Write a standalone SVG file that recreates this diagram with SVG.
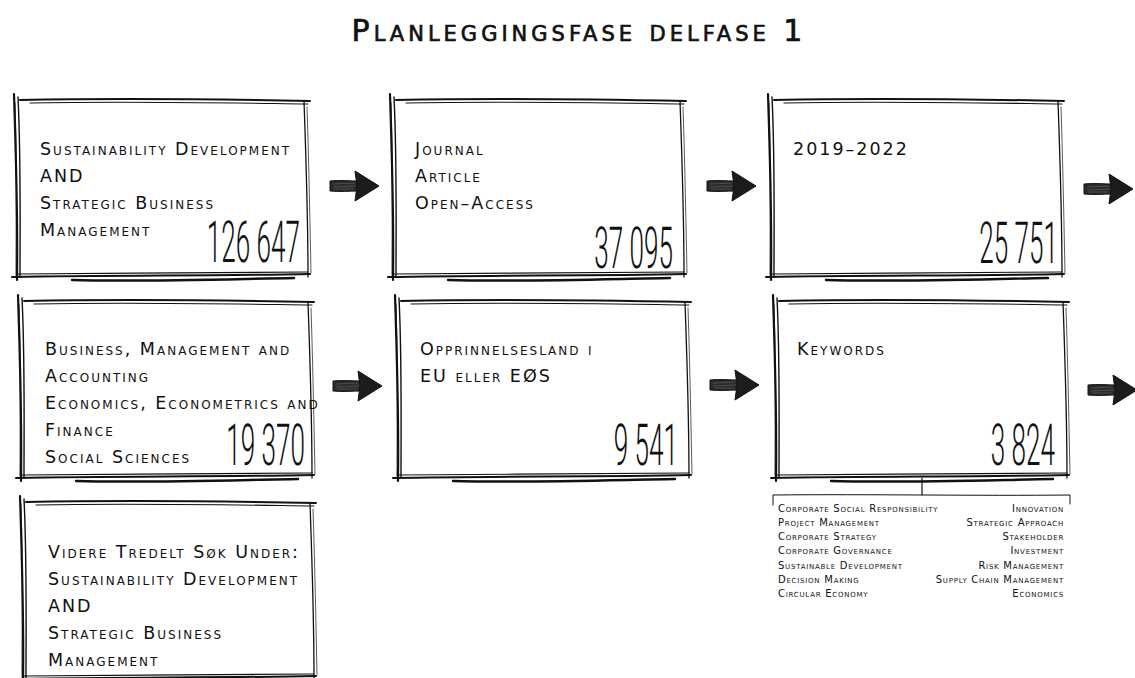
<svg xmlns="http://www.w3.org/2000/svg" width="1135" height="678" viewBox="0 0 1135 678">
  <style>
    .lbl { font-family: "DejaVu Sans", "Liberation Sans", sans-serif; font-size: 17.5px; letter-spacing: 2px; font-variant: small-caps; fill: #111; }
    .title { font-family: "DejaVu Sans", "Liberation Sans", sans-serif; font-size: 30px; letter-spacing: 4px; font-variant: small-caps; fill: #111; stroke: #111; stroke-width: 0.7px; }
    .kw { font-family: "DejaVu Sans", "Liberation Sans", sans-serif; font-size: 10px; letter-spacing: 0.75px; font-variant: small-caps; fill: #111; }
    .num { font-family: Roboto, "DejaVu Sans", sans-serif; font-weight: 300; font-size: 58px; fill: #111; text-rendering: geometricPrecision; }
    .sk { fill: none; stroke: #111; stroke-linecap: round; }
  </style>
  <defs>
    <!-- hand-sketched frame, 300 x 182 -->
    <symbol id="frame" overflow="visible">
      <path class="sk" stroke-width="2.2" d="M2,-3 C4,60 6,120 5,183"/>
      <path class="sk" stroke-width="1.4" d="M6,0 C9,60 8,130 8,180"/>
      <path class="sk" stroke-width="0.8" d="M3,6 C5,70 4,130 4,178"/>
      <path class="sk" stroke-width="2" d="M8,3 C100,1 200,2 298,4"/>
      <path class="sk" stroke-width="1.1" d="M18,6 C120,4 220,6 296,7"/>
      <path class="sk" stroke-width="1.3" d="M292,4 C294,60 296,120 296,180"/>
      <path class="sk" stroke-width="0.7" d="M295,10 C297,70 298,130 299,176"/>
      <path class="sk" stroke-width="2" d="M0,180 C100,178 200,179 298,177"/>
      <path class="sk" stroke-width="1.1" d="M6,177 C100,176 210,176 296,175"/>
      <path class="sk" stroke-width="2.4" d="M60,183 C130,185 220,182 282,181"/>
    </symbol>
    <!-- heavy sketched arrow, pointing right, origin at shaft start centre -->
    <symbol id="arrow" overflow="visible">
      <path d="M0,-5 C10,-6 20,-5 28,-5 L28,5 C20,5 10,6 0,5 Z" fill="#2a2a2a" stroke="#111" stroke-width="1"/>
      <path d="M3,-2 L25,-3 M3,1 L26,0 M4,3 L24,3" stroke="#666" stroke-width="0.6" fill="none"/>
      <path d="M25,-15 L49,0 L25,15 L27,0 Z" fill="#1c1c1c" stroke="#111" stroke-width="1" stroke-linejoin="round"/>
    </symbol>
  </defs>

  <rect width="1135" height="678" fill="#fff"/>

  <text class="title" x="579" y="41" text-anchor="middle">Planleggingsfase delfase 1</text>

  <g id="connectors">
    <use href="#arrow" x="330" y="186"/>
    <use href="#arrow" x="707" y="186"/>
    <use href="#arrow" x="1084" y="189"/>
    <use href="#arrow" x="333" y="386"/>
    <use href="#arrow" x="710" y="385"/>
    <use href="#arrow" x="1088" y="390"/>
    <!-- keyword bracket -->
    <path class="sk" stroke-width="1.2" d="M922,478 L922,495"/>
    <path class="sk" stroke-width="1" d="M773,505 L773,495 C870,494 980,496 1070,495 L1070,504"/>
  </g>

  <g id="node-scope">
    <use href="#frame" x="12" y="97"/>
    <text class="lbl" x="40" y="155">Sustainability Development</text>
    <text class="lbl" x="40" y="182">AND</text>
    <text class="lbl" x="40" y="209">Strategic Business</text>
    <text class="lbl" x="40" y="236">Management</text>
    <text class="num" transform="translate(300,262) scale(0.45,1)" text-anchor="end">126 647</text>
  </g>

  <g id="node-doctype">
    <use href="#frame" x="388" y="97"/>
    <text class="lbl" x="415" y="155">Journal</text>
    <text class="lbl" x="415" y="182">Article</text>
    <text class="lbl" x="415" y="209">Open–Access</text>
    <text class="num" transform="translate(673,268) scale(0.45,1)" text-anchor="end">37 095</text>
  </g>

  <g id="node-years">
    <use href="#frame" x="766" y="97"/>
    <text class="lbl" x="793" y="155">2019–2022</text>
    <text class="num" transform="translate(1058,263) scale(0.45,1)" text-anchor="end">25 751</text>
  </g>

  <g id="node-subject">
    <use href="#frame" x="16" y="298"/>
    <text class="lbl" x="45" y="355">Business, Management and</text>
    <text class="lbl" x="45" y="382">Accounting</text>
    <text class="lbl" x="45" y="409">Economics, Econometrics and</text>
    <text class="lbl" x="45" y="436">Finance</text>
    <text class="lbl" x="45" y="463">Social Sciences</text>
    <text class="num" transform="translate(305,465) scale(0.45,1)" text-anchor="end">19 370</text>
  </g>

  <g id="node-country">
    <use href="#frame" x="393" y="298"/>
    <text class="lbl" x="420" y="355">Opprinnelsesland i</text>
    <text class="lbl" x="420" y="382">EU eller EØS</text>
    <text class="num" transform="translate(678,465) scale(0.45,1)" text-anchor="end">9 541</text>
  </g>

  <g id="node-keywords">
    <use href="#frame" x="771" y="298"/>
    <text class="lbl" x="797" y="355">Keywords</text>
    <text class="num" transform="translate(1055,465) scale(0.45,1)" text-anchor="end">3 824</text>
  </g>

  <g id="keyword-list">
    <text class="kw" x="778" y="512">Corporate Social Responsibility</text>
    <text class="kw" x="778" y="526">Project Management</text>
    <text class="kw" x="778" y="540">Corporate Strategy</text>
    <text class="kw" x="778" y="554">Corporate Governance</text>
    <text class="kw" x="778" y="569">Sustainable Development</text>
    <text class="kw" x="778" y="583">Decision Making</text>
    <text class="kw" x="778" y="597">Circular Economy</text>
    <text class="kw" x="1064" y="512" text-anchor="end">Innovation</text>
    <text class="kw" x="1064" y="526" text-anchor="end">Strategic Approach</text>
    <text class="kw" x="1064" y="540" text-anchor="end">Stakeholder</text>
    <text class="kw" x="1064" y="554" text-anchor="end">Investment</text>
    <text class="kw" x="1064" y="569" text-anchor="end">Risk Management</text>
    <text class="kw" x="1064" y="583" text-anchor="end">Supply Chain Management</text>
    <text class="kw" x="1064" y="597" text-anchor="end">Economics</text>
  </g>

  <g id="node-further">
    <use href="#frame" x="18" y="499"/>
    <text class="lbl" x="48" y="558">Videre Tredelt Søk Under:</text>
    <text class="lbl" x="48" y="585">Sustainability Development</text>
    <text class="lbl" x="48" y="612">AND</text>
    <text class="lbl" x="48" y="639">Strategic Business</text>
    <text class="lbl" x="48" y="666">Management</text>
  </g>
</svg>
